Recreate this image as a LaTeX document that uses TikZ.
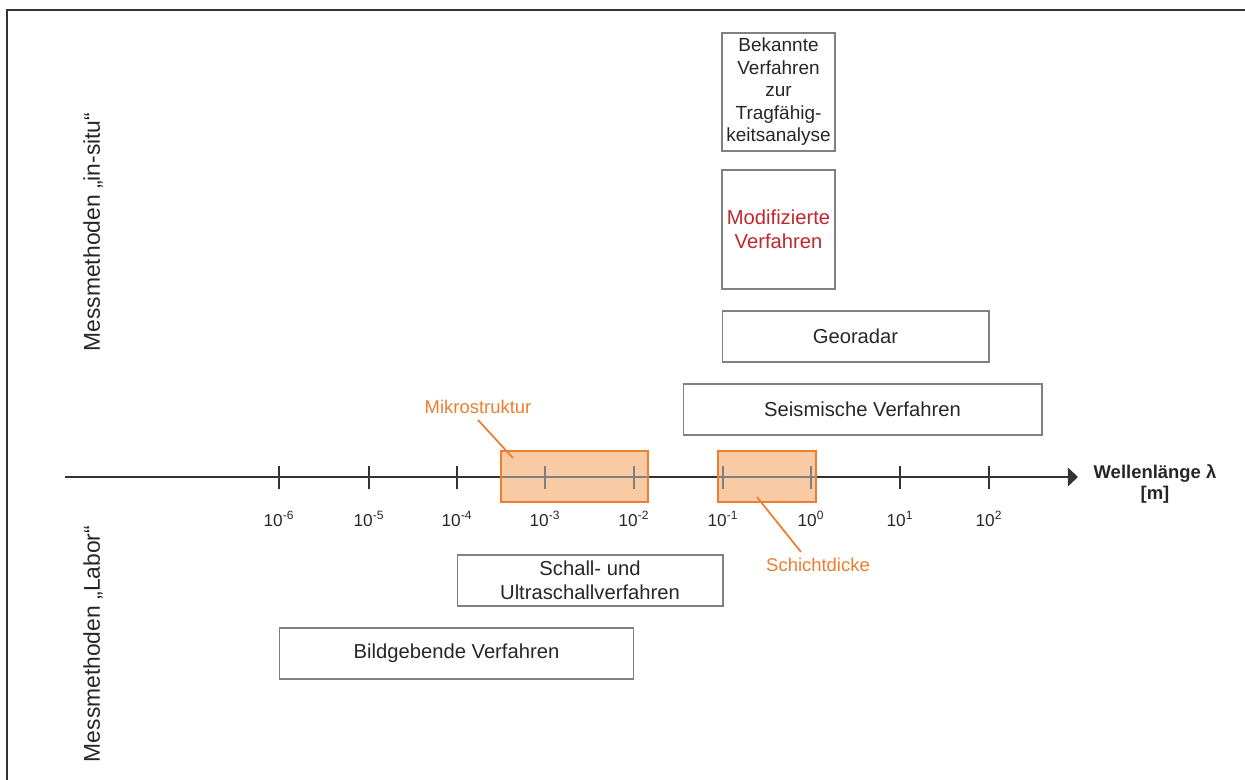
\documentclass[tikz,border=0pt]{standalone}
\usepackage{fontspec}
\setmainfont{Liberation Sans}
\usepackage{tikz}
\usetikzlibrary{arrows.meta}
\definecolor{darktext}{HTML}{262626}
\definecolor{axisgray}{HTML}{333333}
\definecolor{midgray}{HTML}{7F7F7F}
\definecolor{boxgray}{HTML}{808080}
\definecolor{rangeorange}{HTML}{ED7D31}
\definecolor{rangefill}{HTML}{F8CBA4}
\definecolor{modred}{HTML}{C0272D}

\begin{document}
\begin{tikzpicture}[x=0.02cm, y=-0.02cm,
  method/.style={
    draw=boxgray, line width=0.6pt, inner sep=1pt, align=center,
    minimum height=1.02cm, text=darktext,
    font=\fontsize{11.5}{13.5}\selectfont
  },
  rangebox/.style={fill=rangefill, inner sep=0pt, minimum height=1.02cm},
  rangeline/.style={draw=rangeorange, line width=1.1pt},
  note/.style={text=rangeorange, font=\fontsize{10.5}{12}\selectfont},
  axis/.style={draw=axisgray, line width=1pt},
  ticklabel/.style={text=darktext, font=\fontsize{9.8}{11}\selectfont},
  side/.style={rotate=90, text=darktext, font=\fontsize{13}{15}\selectfont}
]
\useasboundingbox (0,0) rectangle (1245,780);
% frame
\draw[axisgray, line width=0.9pt] (7,780) -- (7,10) -- (1245,10);

% left labels
\node[side] (insitu) at (93,232) {Messmethoden „in-situ“};
\node[side] (labor) at (93,644) {Messmethoden „Labor“};

% axis with decades
\coordinate (axstart) at (65,477);
\coordinate (axend) at (1078,477);
\draw[axis, -{Triangle[length=5.7pt,width=10.5pt]}] (axstart) -- (axend);
\foreach \x/\e [count=\i] in {279/-6,369/-5,457/-4,545/-3,634/-2,723/-1,811/0,900/1,989/2} {
  \draw[axis] (\x,466) -- (\x,489);
  \node[ticklabel] (t\i) at (\x,519) {10\textsuperscript{\e}};
}
\node[align=center, text=darktext, font=\fontsize{10.5}{12}\selectfont\bfseries] (unit) at (1155,484) {Wellenlänge λ\\{[m]}};

% highlighted ranges
\node[rangebox, minimum width=2.94cm] (mikro) at (574.5,476.5) {};
\node[rangebox, minimum width=1.96cm] (schicht) at (767,476.5) {};
\begin{scope}
  \clip (mikro.north west) rectangle (mikro.south east)
        (schicht.north west) rectangle (schicht.south east);
  \draw[axis, draw=midgray] (axstart) -- (axend);
  \foreach \x in {545,634,723,811} \draw[axis, draw=midgray] (\x,466) -- (\x,489);
\end{scope}
\draw[rangeline] (mikro.north west) rectangle (mikro.south east);
\draw[rangeline] (schicht.north west) rectangle (schicht.south east);

\node[note] (mikrolabel) at (478,407) {Mikrostruktur};
\node[note] (schichtlabel) at (818,565) {Schichtdicke};
\coordinate (mikroend) at (513,458);
\coordinate (schichtend) at (757,497);
\draw[rangeorange, line width=1pt] (mikrolabel.south) -- (mikroend);
\draw[rangeorange, line width=1pt] (schichtend) -- ([xshift=-0.34cm]schichtlabel.north);

% methods
\node[method, minimum width=2.26cm, minimum height=2.36cm, font=\fontsize{10.8}{12.8}\selectfont] (bekannt) at (778.5,92)
  {Bekannte\\Verfahren\\zur\\Tragfähig-\\keitsanalyse};
\node[method, minimum width=2.26cm, minimum height=2.38cm, text=modred] (modif) at (778.5,229.5)
  {Modifizierte\\Verfahren};
\node[method, minimum width=5.34cm] (georadar) at (855.5,336.5) {Georadar};
\node[method, minimum width=7.18cm] (seismik) at (862.5,409.5) {Seismische Verfahren};
\node[method, minimum width=5.32cm] (schall) at (590,580.5) {Schall- und\\Ultraschallverfahren};
\node[method, minimum width=7.1cm] (bild) at (456.5,653.5) {Bildgebende Verfahren};
\end{tikzpicture}
\end{document}
